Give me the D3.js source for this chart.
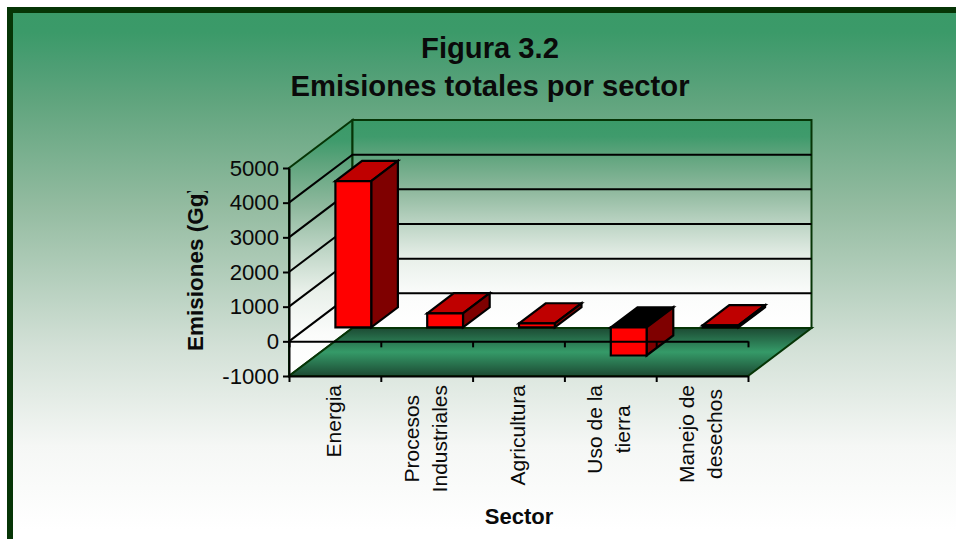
<!DOCTYPE html>
<meta charset="utf-8">
<style>
  body { margin: 0; background: #fff; }
  svg { display: block; }
  text { font-family: "Liberation Sans", Arial, sans-serif; fill: #0a0a0a; }
</style>

<!-- Load d3.js -->
<script src="https://d3js.org/d3.v7.min.js"></script>

<div id="chart"></div>
<script>

// data
var sectors = ["Energia", "Procesos Industriales", "Agricultura", "Uso de la tierra", "Manejo de desechos"];
var sectorLines = [["Energia"], ["Procesos", "Industriales"], ["Agricultura"], ["Uso de la", "tierra"], ["Manejo de", "desechos"]];
var emissions = [4220, 405, 115, -810, 60];
var yTicks = [-1000, 0, 1000, 2000, 3000, 4000, 5000];
var titleLines = ["Figura 3.2", "Emisiones totales por sector"];

var width = 956, height = 539;

var svg = d3.select("#chart").append("svg")
    .attr("width", width)
    .attr("height", height);

// front plane scales
var y = d3.scaleLinear().domain([-1000, 5000]).range([376, 168]);
var x = d3.scaleBand().domain(sectors).range([289, 748]).paddingInner(0.61).paddingOuter(0.305);
var edge = d3.scaleLinear().domain([0, sectors.length]).range([289, 748]);

// oblique depth of the 3D box
var depthX = 63.5, depthY = -48;
var barFront = 0.29, barBack = 0.71;

function pt(px, value, depth) {
  return [px + depthX * depth, y(value) + depthY * depth];
}
function poly(points) { return points.map(function(p) { return p.join(","); }).join(" "); }

// gradients
var defs = svg.append("defs");
function gradient(id, stops) {
  var g = defs.append("linearGradient").attr("id", id).attr("x1", 0).attr("x2", 0).attr("y1", 0).attr("y2", 1);
  stops.forEach(function(s) { g.append("stop").attr("offset", s[0]).attr("stop-color", s[1]); });
}
gradient("bgGrad", [[0, "#3a9a68"], [0.04, "#3b9a69"], [0.1, "#4d9e74"], [0.16, "#5fa47d"], [0.35, "#93bba0"], [0.6, "#d2e0d6"], [0.78, "#f5f7f5"], [0.93, "#ffffff"], [1, "#ffffff"]]);
gradient("wallGrad", [[0, "#3a9a68"], [0.08, "#3f9b6c"], [0.17, "#5fa47d"], [0.34, "#8fb99e"], [0.5, "#bcd4c4"], [0.67, "#e9f0ea"], [0.84, "#fbfcfb"], [1, "#ffffff"]]);
gradient("floorGrad", [[0, "#1c4a33"], [0.5, "#359a68"], [1, "#1c4a33"]]);

defs.append("clipPath").attr("id", "yTitleClip")
  .append("rect").attr("x", 170).attr("y", 191).attr("width", 50).attr("height", 180);

// page background and dark border
svg.append("rect")
    .attr("x", 10).attr("y", 10)
    .attr("width", width + 20).attr("height", height + 20)
    .attr("fill", "url(#bgGrad)")
    .attr("stroke", "#063506")
    .attr("stroke-width", 6);

// walls
var wallStroke = "#063506";
var yMin = yTicks[0], yMax = yTicks[yTicks.length - 1];

svg.append("polygon")
    .attr("points", poly([pt(edge(0), yMin, 0), pt(edge(0), yMax, 0), pt(edge(0), yMax, 1), pt(edge(0), yMin, 1)]))
    .attr("fill", "url(#wallGrad)")
    .attr("stroke", wallStroke).attr("stroke-width", 2);

svg.append("polygon")
    .attr("points", poly([pt(edge(0), yMin, 1), pt(edge(0), yMax, 1), pt(edge(5), yMax, 1), pt(edge(5), yMin, 1)]))
    .attr("fill", "url(#wallGrad)")
    .attr("stroke", wallStroke).attr("stroke-width", 2);

// gridlines on both walls
var gridTicks = yTicks.slice(1, -1);
svg.append("g").selectAll("polyline")
  .data(gridTicks)
  .join("polyline")
    .attr("points", function(d) { return poly([pt(edge(0), d, 0), pt(edge(0), d, 1), pt(edge(5), d, 1)]); })
    .attr("fill", "none")
    .attr("stroke", "#000")
    .attr("stroke-width", 2);

// floor
svg.append("polygon")
    .attr("points", poly([pt(edge(0), yMin, 0), pt(edge(5), yMin, 0), pt(edge(5), yMin, 1), pt(edge(0), yMin, 1)]))
    .attr("fill", "url(#floorGrad)")
    .attr("stroke", wallStroke).attr("stroke-width", 2);

// bars
var bars = svg.append("g").selectAll("g")
  .data(emissions)
  .join("g")
    .attr("stroke", "#000")
    .attr("stroke-width", 2.2)
    .attr("stroke-linejoin", "miter");

// top face (goes black when the value is negative)
bars.append("polygon")
    .attr("points", function(d, i) {
      var x0 = x(sectors[i]), x1 = x0 + x.bandwidth(), top = Math.max(d, 0);
      return poly([pt(x0, top, barFront), pt(x1, top, barFront), pt(x1, top, barBack), pt(x0, top, barBack)]);
    })
    .attr("fill", function(d) { return d < 0 ? "#000" : "#bf0000"; });

// side face
bars.append("polygon")
    .attr("points", function(d, i) {
      var x1 = x(sectors[i]) + x.bandwidth();
      return poly([pt(x1, 0, barFront), pt(x1, d, barFront), pt(x1, d, barBack), pt(x1, 0, barBack)]);
    })
    .attr("fill", "#7f0000");

// front face
bars.append("polygon")
    .attr("points", function(d, i) {
      var x0 = x(sectors[i]), x1 = x0 + x.bandwidth();
      return poly([pt(x0, 0, barFront), pt(x1, 0, barFront), pt(x1, d, barFront), pt(x0, d, barFront)]);
    })
    .attr("fill", "#ff0000");

// Y axis
var yAxis = svg.append("g")
    .attr("transform", "translate(" + edge(0) + ",0)")
    .call(d3.axisLeft(y).tickValues(yTicks).tickSize(6).tickSizeOuter(0).tickPadding(4).tickFormat(function(d) { return String(d); }));
yAxis.selectAll("text").style("font-size", "22.2px");

// X axes: one on the zero line, one along the bottom edge
[0, yMin].forEach(function(v) {
  svg.append("g")
      .attr("transform", "translate(0," + y(v) + ")")
      .call(d3.axisBottom(edge).ticks(sectors.length).tickSize(6).tickSizeOuter(0).tickFormat(""));
});
svg.selectAll(".domain, .tick line").attr("stroke", "#000").attr("stroke-width", 2);

// category labels, rotated; each block hangs from just under the axis
var labels = svg.append("g").selectAll("g")
  .data(sectorLines)
  .join("g")
    .attr("transform", function(d, i) { return "translate(" + (x(sectors[i]) + x.bandwidth() / 2) + ",0)"; });

labels.each(function(lines) {
  var g = d3.select(this), lineGap = 28;
  var texts = g.selectAll("text")
    .data(lines)
    .join("text")
      .attr("text-anchor", "middle")
      .style("font-size", "21px")
      .text(function(d) { return d; });
  var longest = d3.max(texts.nodes(), function(n) { return n.getComputedTextLength(); });
  var midY = 385 + longest / 2;
  texts.attr("transform", function(d, k) {
    return "translate(" + (6 + (k - (lines.length - 1) / 2) * lineGap) + "," + midY + ") rotate(-90)";
  });
});

// titles
svg.append("g").selectAll("text")
  .data(titleLines)
  .join("text")
    .attr("x", 490)
    .attr("y", function(d, i) { return 58 + i * 38; })
    .attr("text-anchor", "middle")
    .style("font-size", "29.2px")
    .style("font-weight", "bold")
    .text(function(d) { return d; });

svg.append("g")
    .attr("clip-path", "url(#yTitleClip)")
  .append("text")
    .attr("transform", "translate(203,351) rotate(-90)")
    .style("font-size", "22.5px")
    .style("font-weight", "bold")
    .text("Emisiones (Gg)");

svg.append("text")
    .attr("x", 519)
    .attr("y", 524)
    .attr("text-anchor", "middle")
    .style("font-size", "22px")
    .style("font-weight", "bold")
    .text("Sector");

</script>
